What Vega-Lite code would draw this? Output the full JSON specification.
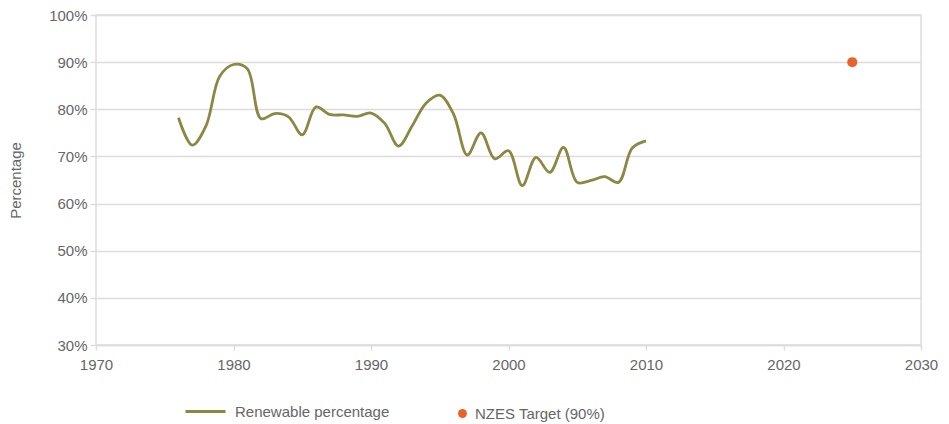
{
  "$schema": "https://vega.github.io/schema/vega-lite/v6.json",
  "width": 825,
  "height": 330,
  "padding": {"left": 8, "top": 8, "right": 5, "bottom": 5},
  "config": {
    "font": "Liberation Sans",
    "view": {"stroke": "#e0dcdc", "strokeWidth": 1.5},
    "axis": {
      "labelColor": "#666666",
      "labelFontSize": 15,
      "titleColor": "#666666",
      "titleFontSize": 15,
      "titleFontWeight": "normal",
      "gridColor": "#e0dcdc",
      "gridWidth": 1.5,
      "tickColor": "#e0dcdc",
      "tickWidth": 1.5,
      "domainColor": "#e0dcdc",
      "domainWidth": 1.5
    },
    "legend": {"labelColor": "#666666", "labelFontSize": 15}
  },
  "layer": [
    {
      "data": {
        "values": [
          {"year": 1976, "pct": 78.2},
          {"year": 1977, "pct": 72.4},
          {"year": 1978, "pct": 76.5},
          {"year": 1979, "pct": 87.0},
          {"year": 1980, "pct": 89.5},
          {"year": 1981, "pct": 88.6},
          {"year": 1982, "pct": 78.0},
          {"year": 1983, "pct": 79.1},
          {"year": 1984, "pct": 78.4},
          {"year": 1985, "pct": 74.6},
          {"year": 1986, "pct": 80.5},
          {"year": 1987, "pct": 78.9},
          {"year": 1988, "pct": 78.8},
          {"year": 1989, "pct": 78.5},
          {"year": 1990, "pct": 79.2},
          {"year": 1991, "pct": 77.0},
          {"year": 1992, "pct": 72.2},
          {"year": 1993, "pct": 76.5},
          {"year": 1994, "pct": 81.3},
          {"year": 1995, "pct": 83.0},
          {"year": 1996, "pct": 79.0},
          {"year": 1997, "pct": 70.3},
          {"year": 1998, "pct": 75.0},
          {"year": 1999, "pct": 69.5},
          {"year": 2000, "pct": 71.2},
          {"year": 2001, "pct": 63.8},
          {"year": 2002, "pct": 69.8},
          {"year": 2003, "pct": 66.6},
          {"year": 2004, "pct": 71.9},
          {"year": 2005, "pct": 64.5},
          {"year": 2006, "pct": 64.9},
          {"year": 2007, "pct": 65.7},
          {"year": 2008, "pct": 64.5},
          {"year": 2009, "pct": 71.8},
          {"year": 2010, "pct": 73.3}
        ]
      },
      "mark": {"type": "line", "interpolate": "catmull-rom", "strokeWidth": 2.8},
      "encoding": {
        "x": {
          "field": "year",
          "type": "quantitative",
          "scale": {"domain": [1970, 2030], "nice": false, "zero": false},
          "axis": {"values": [1970, 1980, 1990, 2000, 2010, 2020, 2030], "format": "d", "grid": false, "title": null, "tickSize": 5, "labelPadding": 7, "labelFlush": false}
        },
        "y": {
          "field": "pct",
          "type": "quantitative",
          "scale": {"domain": [30, 100], "nice": false, "zero": false},
          "axis": {"values": [30, 40, 50, 60, 70, 80, 90, 100], "labelExpr": "datum.value + '%'", "title": "Percentage", "domain": false, "tickSize": 6, "labelPadding": 3, "titlePadding": 25, "labelFlush": false}
        },
        "color": {
          "datum": "Renewable percentage",
          "scale": {"range": ["#8c8743"]},
          "legend": {"title": null, "orient": "none", "legendX": 88, "legendY": 375, "symbolType": "stroke", "symbolSize": 1600, "symbolStrokeWidth": 3, "labelOffset": 8}
        }
      }
    },
    {
      "data": {"values": [{"year": 2025, "pct": 90}]},
      "mark": {"type": "point", "filled": true, "size": 100, "opacity": 1},
      "encoding": {
        "x": {"field": "year", "type": "quantitative"},
        "y": {"field": "pct", "type": "quantitative"},
        "color": {
          "datum": "NZES Target (90%)",
          "scale": {"range": ["#e8622a"]},
          "legend": {"title": null, "orient": "none", "legendX": 359, "legendY": 391, "symbolType": "circle", "symbolSize": 80, "symbolOpacity": 1, "labelOffset": 5}
        }
      }
    }
  ],
  "resolve": {"scale": {"color": "independent"}}
}
